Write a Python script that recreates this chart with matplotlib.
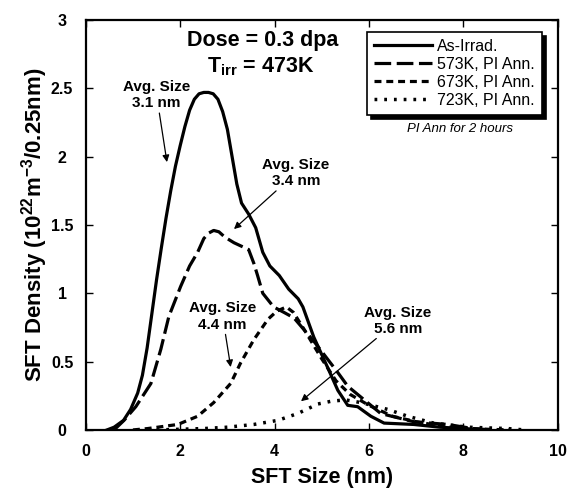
import matplotlib
matplotlib.use('Agg')
import matplotlib.pyplot as plt

plt.rcParams['font.family'] = ['Liberation Sans', 'DejaVu Sans']
plt.rcParams['mathtext.fontset'] = 'custom'
plt.rcParams['mathtext.rm'] = 'Liberation Sans:bold'
plt.rcParams['mathtext.it'] = 'Liberation Sans:bold'
plt.rcParams['mathtext.bf'] = 'Liberation Sans:bold'
plt.rcParams['mathtext.default'] = 'rm'
plt.rcParams['lines.scale_dashes'] = False

# As-Irrad.
x_irr = [0.45, 0.6, 0.8, 0.95, 1.1, 1.2, 1.3, 1.4, 1.5, 1.6, 1.7, 1.8, 1.9, 2.0,
         2.1, 2.2, 2.3, 2.4, 2.5, 2.6, 2.7, 2.8, 2.9, 3.0, 3.1, 3.2, 3.3, 3.45,
         3.6, 3.75, 3.9, 4.1, 4.3, 4.5, 4.6, 4.83, 5.12, 5.34, 5.55, 5.76, 6.04,
         6.32, 6.95, 7.5, 8.0, 8.5]
y_irr = [0, 0.02, 0.07, 0.15, 0.27, 0.4, 0.6, 0.85, 1.1, 1.33, 1.55, 1.75, 1.93, 2.08,
         2.22, 2.34, 2.42, 2.46, 2.47, 2.47, 2.46, 2.42, 2.33, 2.2, 2.0, 1.8, 1.66, 1.58,
         1.48, 1.3, 1.2, 1.13, 1.03, 0.96, 0.9, 0.68, 0.46, 0.29, 0.18, 0.17, 0.10,
         0.05, 0.04, 0.02, 0.01, 0.0]

# 573K, PI Ann.
x_573 = [0.6, 0.81, 1.06, 1.38, 1.59, 1.76, 2.01, 2.2, 2.37, 2.5, 2.6, 2.71, 2.82,
         2.95, 3.14, 3.45, 3.56, 3.64, 3.75, 3.98, 4.2, 4.41, 4.83, 5.34, 5.55, 5.83,
         6.25, 6.95, 7.67, 8.2, 8.6]
y_573 = [0.0, 0.07, 0.17, 0.34, 0.59, 0.83, 1.05, 1.2, 1.3, 1.4, 1.44, 1.46, 1.45,
         1.41, 1.37, 1.32, 1.22, 1.13, 1.0, 0.9, 0.86, 0.82, 0.65, 0.42, 0.32, 0.24,
         0.12, 0.06, 0.04, 0.01, 0.0]

# 673K, PI Ann.
x_673 = [1.0, 1.31, 1.95, 2.37, 2.71, 3.07, 3.28, 3.56, 3.86, 4.05, 4.25, 4.4, 4.6,
         5.0, 5.3, 5.6, 6.0, 6.5, 7.0, 7.5, 8.0, 8.5, 9.0]
y_673 = [0.0, 0.01, 0.04, 0.1, 0.2, 0.34, 0.49, 0.66, 0.81, 0.87, 0.9, 0.86, 0.75,
         0.52, 0.36, 0.26, 0.18, 0.1, 0.06, 0.03, 0.01, 0.005, 0.0]

# 723K, PI Ann.
x_723 = [1.5, 2.5, 3.0, 3.56, 4.07, 4.49, 4.92, 5.2, 5.5, 5.83, 6.4, 6.82, 7.37,
         8.09, 8.94, 9.3]
y_723 = [0.0, 0.01, 0.02, 0.04, 0.07, 0.12, 0.19, 0.21, 0.22, 0.2, 0.15, 0.10, 0.05,
         0.02, 0.01, 0.0]

labels = ['As-Irrad.', '573K, PI Ann.', '673K, PI Ann.', '723K, PI Ann.']

fig = plt.figure(figsize=(5.68, 4.88), dpi=100)
ax = fig.add_axes([0.151, 0.119, 0.831, 0.840])

ax.plot(x_irr, y_irr, color='black', lw=2.3, label=labels[0])
ax.plot(x_573, y_573, color='black', lw=2.3, dashes=(12, 4), label=labels[1])
ax.plot(x_673, y_673, color='black', lw=2.3, dashes=(5, 3.5), label=labels[2])
ax.plot(x_723, y_723, color='black', lw=2.5, dashes=(2, 5), label=labels[3])

ax.set_xlim(0, 10)
ax.set_ylim(0, 3)
ax.set_xticks([0, 2, 4, 6, 8, 10])
ax.set_yticks([0, 0.5, 1, 1.5, 2, 2.5, 3])
ax.set_yticklabels(['0', '0.5', '1', '1.5', '2', '2.5', '3'])
ax.tick_params(direction='in', top=True, right=True, length=5, width=1,
               labelsize=11.5)
ax.tick_params(axis='x', pad=10)
ax.tick_params(axis='y', pad=17)
for lab in ax.get_xticklabels() + ax.get_yticklabels():
    lab.set_fontweight('bold')
for lab in ax.get_yticklabels():
    lab.set_horizontalalignment('center')
for sp in ax.spines.values():
    sp.set_linewidth(1.6)

ax.set_xlabel('SFT Size (nm)', fontsize=15.5, fontweight='bold', labelpad=6)
ax.set_ylabel('SFT Density (10$^{22}$m$^{-3}$/0.25nm)', fontsize=16,
              fontweight='bold', labelpad=1)

ax.text(3.75, 2.85, 'Dose = 0.3 dpa', fontsize=15.5, fontweight='bold',
        ha='center', va='center')
ax.text(3.7, 2.66, 'T$_{irr}$ = 473K', fontsize=15.5, fontweight='bold',
        ha='center', va='center')

ann_kw = dict(fontsize=11, fontweight='bold', ha='center', va='center',
              arrowprops=dict(arrowstyle='-|>', color='black', lw=0.9,
                              mutation_scale=10, shrinkA=0, shrinkB=0))
ax.annotate('Avg. Size\n3.1 nm', xy=(1.72, 1.96), xytext=(1.5, 2.45),
            **ann_kw)
ax.annotate('Avg. Size\n3.4 nm', xy=(3.14, 1.47), xytext=(4.45, 1.88),
            **ann_kw)
ax.annotate('Avg. Size\n4.4 nm', xy=(3.07, 0.46), xytext=(2.9, 0.83),
            **ann_kw)
ax.annotate('Avg. Size\n5.6 nm', xy=(4.56, 0.21), xytext=(6.61, 0.80),
            **ann_kw)

leg = ax.legend(loc='upper right', bbox_to_anchor=(0.966, 0.971),
                borderaxespad=0, fontsize=11.5, handlelength=3.6,
                handletextpad=0.3, labelspacing=0.18, borderpad=0.45,
                fancybox=False, edgecolor='black',
                shadow={'color': 'black', 'alpha': 1, 'ox': 3, 'oy': -3})
leg.get_frame().set_linewidth(1.2)

ax.text(7.93, 2.2, 'PI Ann for 2 hours', fontsize=9.5, fontstyle='italic',
        ha='center', va='center')

fig.savefig('out.png', dpi=100)
